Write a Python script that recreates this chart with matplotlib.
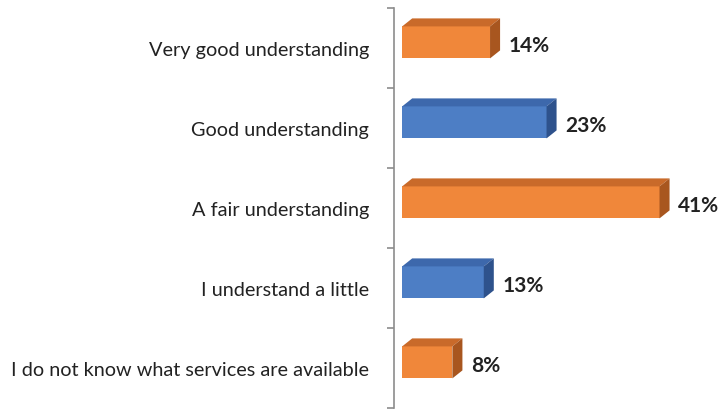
import matplotlib.pyplot as plt
from matplotlib.patches import Polygon

plt.rcParams['font.family'] = ['Lato', 'DejaVu Sans']

categories = ['Very good understanding', 'Good understanding', 'A fair understanding',
              'I understand a little', 'I do not know what services are available']
values = [14, 23, 41, 13, 8]
labels = ['14%', '23%', '41%', '13%', '8%']

orange = ('#F0873A', '#C96A2A', '#A8561F')   # front, top, side
blue = ('#4D7EC5', '#3D68AC', '#2E528C')
palette = [orange, blue, orange, blue, orange]

fig = plt.figure(figsize=(7.22, 4.10), dpi=100)
ax = fig.add_axes([394 / 722, 1 / 410, 322 / 722, 400 / 410])

h = 0.4      # front face height
lift = 0.07  # front face sits a bit above the slot centre
dx, dy = 1.6, 0.1  # depth of the 3d bars

for i, (v, cols) in enumerate(zip(values, palette)):
    c = i - lift
    top, bot = c - h / 2, c + h / 2
    ax.add_patch(Polygon([(0, top), (v, top), (v, bot), (0, bot)],
                         closed=True, facecolor=cols[0], edgecolor='none'))
    ax.add_patch(Polygon([(0, top), (v, top), (v + dx, top - dy), (dx, top - dy)],
                         closed=True, facecolor=cols[1], edgecolor='none'))
    ax.add_patch(Polygon([(v, top), (v + dx, top - dy), (v + dx, bot - dy), (v, bot)],
                         closed=True, facecolor=cols[2], edgecolor='none'))
    ax.text(v + dx + 1.4, i - 0.04, labels[i], va='center', ha='left',
            fontsize=15, fontweight='bold', color='#222222')

ax.set_xlim(-1.3, 50)
ax.set_ylim(4.5, -0.5)

ax.set_yticks([k - 0.5 for k in range(len(categories) + 1)])
ax.set_yticklabels([])
ax.tick_params(axis='y', direction='out', length=5, color='#8c8c8c', width=1.2)
ax.set_yticks(range(len(categories)), minor=True)
ax.set_yticklabels(categories, minor=True, fontsize=14.3, color='#222222')
ax.tick_params(axis='y', which='minor', length=0, pad=18)
ax.set_xticks([])

for s in ['top', 'right', 'bottom']:
    ax.spines[s].set_visible(False)
ax.spines['left'].set_color('#8c8c8c')
ax.spines['left'].set_linewidth(1.2)

fig.savefig('out.png', dpi=100)
